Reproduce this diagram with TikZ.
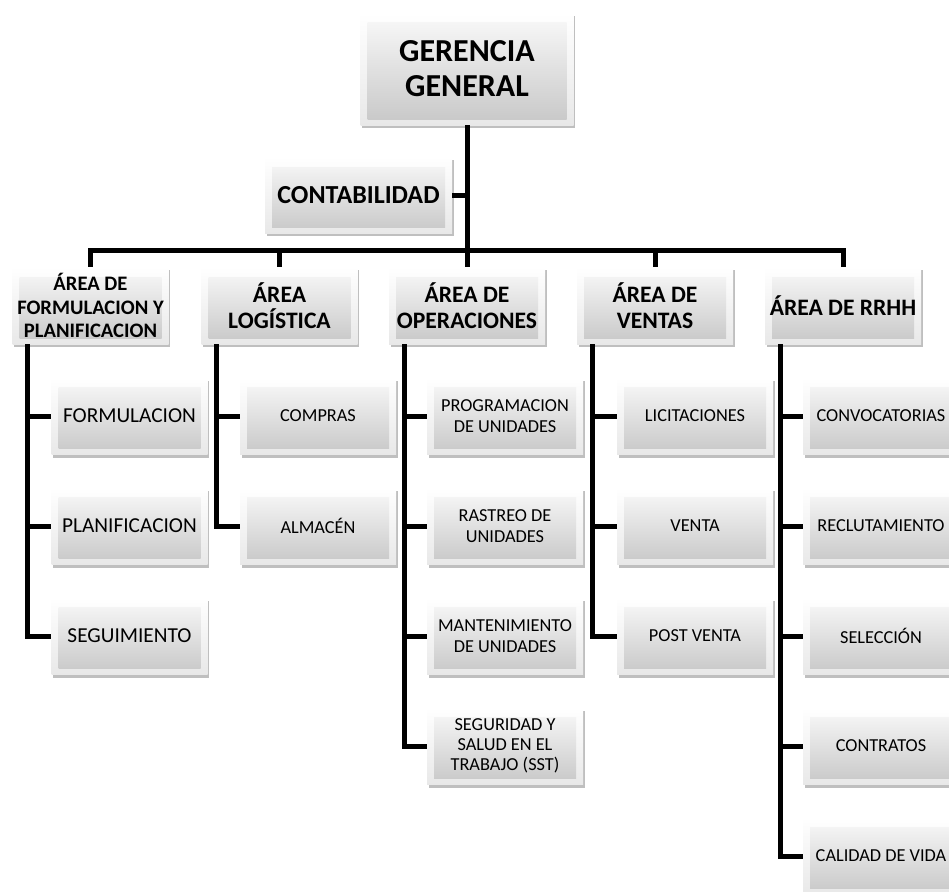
\documentclass[tikz,border=0pt]{standalone}
\usepackage{fontspec}
\setmainfont{Carlito}
\usetikzlibrary{shadows,calc}
\tikzset{
	bisel/.style={draw=none,top color=white,bottom color=black!9,
		drop shadow={shadow xshift=1.5pt,shadow yshift=-3pt,opacity=.25,fill=black},
		path picture={\shade[top color=black!2,bottom color=black!22]
			([shift={(7pt,-10pt)}]path picture bounding box.north west) rectangle
			([shift={(-7pt,6pt)}]path picture bounding box.south east);},
		align=center,inner sep=0pt},
	gbox/.style={bisel,minimum width=213pt,minimum height=112pt,font=\bfseries\fontsize{32}{35}\selectfont},
	cbox/.style={bisel,minimum width=187pt,minimum height=76pt,font=\bfseries\fontsize{26}{30}\selectfont},
	abox/.style={bisel,minimum width=156pt,minimum height=77pt,font=\bfseries\fontsize{23.6}{26.5}\selectfont},
	hbox/.style={bisel,minimum width=156pt,minimum height=77pt,font=\fontsize{18.3}{21.5}\selectfont},
	link/.style={line width=5pt}
}
\begin{document}
\begin{tikzpicture}[x=1pt,y=-1pt]
	\path[use as bounding box,clip] (0,0) rectangle (949,891);
	\node [gbox] (gg) at (467,69) {GERENCIA\\GENERAL};
	\node [cbox] (cont) at (358.5,195) {CONTABILIDAD};

	\node [abox,font=\bfseries\fontsize{20.6}{23.3}\selectfont] (a1) at (90.5,305.5) {ÁREA DE\\FORMULACION Y\\PLANIFICACION};
	\node [abox] (a2) at (279.5,305.5) {ÁREA\\LOGÍSTICA};
	\node [abox] (a3) at (467,305.5) {ÁREA DE\\OPERACIONES};
	\node [abox] (a4) at (655,305.5) {ÁREA DE\\VENTAS};
	\node [abox] (a5) at (843,305.5) {ÁREA DE RRHH};

	% formulacion y planificacion
	\node [hbox,font=\fontsize{21.3}{24}\selectfont] (f1) at (129.5,416) {FORMULACION};
	\node [hbox,font=\fontsize{21.3}{24}\selectfont] (f2) at (129.5,526) {PLANIFICACION};
	\node [hbox,font=\fontsize{21.3}{24}\selectfont] (f3) at (129.5,636) {SEGUIMIENTO};
	% logistica
	\node [hbox] (l1) at (318,416) {COMPRAS};
	\node [hbox] (l2) at (318,526) {ALMACÉN};
	% operaciones
	\node [hbox] (o1) at (505,416) {PROGRAMACION\\DE UNIDADES};
	\node [hbox] (o2) at (505,526) {RASTREO DE\\UNIDADES};
	\node [hbox] (o3) at (505,636) {MANTENIMIENTO\\DE UNIDADES};
	\node [hbox,font=\fontsize{18.3}{20}\selectfont] (o4) at (505,746) {SEGURIDAD Y\\SALUD EN EL\\TRABAJO (SST)};
	% ventas
	\node [hbox] (v1) at (695,416) {LICITACIONES};
	\node [hbox] (v2) at (695,526) {VENTA};
	\node [hbox] (v3) at (695,636) {POST VENTA};
	% rrhh
	\node [hbox] (r1) at (881,416) {CONVOCATORIAS};
	\node [hbox] (r2) at (881,526) {RECLUTAMIENTO};
	\node [hbox] (r3) at (881,636) {SELECCIÓN};
	\node [hbox] (r4) at (881,746) {CONTRATOS};
	\node [hbox] (r5) at (881,856) {CALIDAD DE VIDA};

	\coordinate (bus) at (467,250);
	\draw [link] (gg.south) -- (a3.north);
	\draw [link] (cont.east) -- (cont.east -| gg.south);
	\draw [link] (a1.north) |- (bus) -| (a5.north);
	\draw [link] (a2.north) -- (a2.north |- bus);
	\draw [link] (a4.north) -- (a4.north |- bus);

	\draw [link] ($(a1.south west)+(15.5,0)$) |- (f3.west);
	\draw [link] ($(a1.south west)+(15.5,0)$) |- (f1.west);
	\draw [link] ($(a1.south west)+(15.5,0)$) |- (f2.west);
	\draw [link] ($(a2.south west)+(15.5,0)$) |- (l2.west);
	\draw [link] ($(a2.south west)+(15.5,0)$) |- (l1.west);
	\draw [link] ($(a3.south west)+(15.5,0)$) |- (o4.west);
	\draw [link] ($(a3.south west)+(15.5,0)$) |- (o1.west);
	\draw [link] ($(a3.south west)+(15.5,0)$) |- (o2.west);
	\draw [link] ($(a3.south west)+(15.5,0)$) |- (o3.west);
	\draw [link] ($(a4.south west)+(15.5,0)$) |- (v3.west);
	\draw [link] ($(a4.south west)+(15.5,0)$) |- (v1.west);
	\draw [link] ($(a4.south west)+(15.5,0)$) |- (v2.west);
	\draw [link] ($(a5.south west)+(15.5,0)$) |- (r5.west);
	\draw [link] ($(a5.south west)+(15.5,0)$) |- (r1.west);
	\draw [link] ($(a5.south west)+(15.5,0)$) |- (r2.west);
	\draw [link] ($(a5.south west)+(15.5,0)$) |- (r3.west);
	\draw [link] ($(a5.south west)+(15.5,0)$) |- (r4.west);
\end{tikzpicture}
\end{document}
